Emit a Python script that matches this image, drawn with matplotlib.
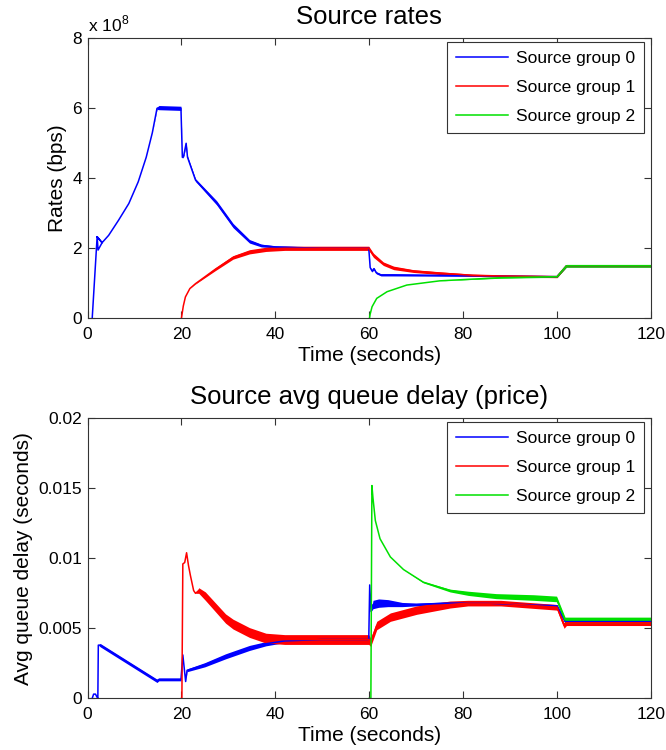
import numpy as np
import matplotlib
matplotlib.use('Agg')
import matplotlib.pyplot as plt

plt.rcParams['font.family'] = ['Liberation Sans', 'DejaVu Sans']
plt.rcParams['mathtext.fontset'] = 'custom'
plt.rcParams['mathtext.rm'] = 'Liberation Sans'

labels = ['Source group 0', 'Source group 1', 'Source group 2']
colors = ['#0000ff', '#ff0000', '#00e000']

# rates, in units of 1e8 bps  (t, centre, half width of the noise band)
rate0_t = [1.0, 2.05, 2.25, 3.1, 2.05, 3.1, 4.5, 6.6, 8.8, 10.8, 12.5, 13.8, 14.8, 15.2, 19.9,
           20.2, 20.5, 21.0, 21.3, 23.0, 27.5, 31.0, 34.5, 37.0, 40.0, 45.0, 50.0, 55.0, 59.9,
           60.2, 60.6, 61.0, 61.5, 62.5, 65.0, 80.0, 100.0, 102.0, 120.0]
rate0_v = [0, 2.33, 1.95, 2.16, 2.33, 2.16, 2.37, 2.8, 3.28, 3.9, 4.6, 5.3, 6.0, 6.02, 6.0,
           4.6, 4.65, 5.0, 4.6, 3.95, 3.3, 2.65, 2.2, 2.08, 2.04, 2.02, 2.0, 2.0, 2.0,
           1.45, 1.35, 1.42, 1.3, 1.24, 1.24, 1.22, 1.19, 1.5, 1.5]
rate0_h = [0, 0, 0, 0, 0, 0, 0, 0, 0, 0, 0, 0, 0.03, 0.06, 0.06,
           0.03, 0.03, 0.04, 0.04, 0.04, 0.06, 0.06, 0.05, 0.04, 0.03, 0.03, 0.03, 0.03, 0.03,
           0.02, 0.03, 0.03, 0.03, 0.03, 0.03, 0.02, 0.02, 0.03, 0.03]

rate1_t = [20.0, 20.4, 20.85, 21.8, 23.0, 27.2, 31.0, 34.5, 38.0, 42.0, 50.0, 59.9, 60.9, 63.0,
           65.2, 69.4, 75.0, 82.0, 88.0, 100.0, 102.0, 120.0]
rate1_v = [0, 0.35, 0.61, 0.85, 0.99, 1.40, 1.74, 1.90, 1.97, 2.0, 2.0, 2.0, 1.8, 1.56,
           1.44, 1.35, 1.29, 1.23, 1.21, 1.19, 1.5, 1.5]
rate1_h = [0, 0, 0, 0, 0.01, 0.04, 0.05, 0.06, 0.06, 0.06, 0.06, 0.06, 0.06, 0.05,
           0.05, 0.04, 0.04, 0.03, 0.03, 0.03, 0.03, 0.03]

rate2_t = [60.05, 60.2, 60.6, 61.6, 63.8, 68.0, 75.0, 82.0, 88.0, 100.0, 102.0, 120.0]
rate2_v = [0, 0.12, 0.33, 0.57, 0.76, 0.95, 1.07, 1.12, 1.16, 1.19, 1.5, 1.5]
rate2_h = [0, 0, 0, 0, 0, 0, 0, 0.01, 0.015, 0.02, 0.04, 0.04]

# average queue delay, seconds
delay0_t = [1.0, 1.3, 1.7, 2.0, 2.2, 2.3, 2.7, 14.8, 15.2, 19.9, 20.3, 20.9, 21.2, 25.0, 29.4,
            34.5, 38.0, 42.0, 50.0, 59.9, 60.1, 60.4, 60.8, 62.0, 64.0, 67.0, 70.0, 77.0, 85.0,
            100.0, 101.7, 120.0]
delay0_v = [0, 0.0003, 0.0003, 0.0001, 0.0, 0.0038, 0.0038, 0.00125, 0.00135, 0.00135, 0.0031,
            0.0012, 0.0020, 0.0024, 0.0030, 0.0036, 0.0039, 0.0041, 0.0042, 0.0042, 0.0081,
            0.0062, 0.0067, 0.0068, 0.0068, 0.0067, 0.0067, 0.0068, 0.0068, 0.0066, 0.0055, 0.0055]
delay0_h = [0, 0, 0, 0, 0, 0, 0.00012, 0.00012, 0.0001, 0.0001, 0, 0, 0.0001, 0.00015, 0.00018,
            0.00018, 0.00015, 0.00012, 0.0001, 0.0001, 0, 0, 0.0003, 0.0003, 0.00025, 0.00015,
            0.0001, 0.0001, 0.0001, 0.0001, 0.0001, 0.0001]

delay1_t = [20.0, 20.1, 20.3, 20.7, 21.1, 21.5, 21.9, 22.6, 23.0, 23.7, 25.1, 29.4, 31.0, 34.5,
            38.0, 42.0, 50.0, 59.9, 60.3, 61.6, 64.5, 70.1, 77.2, 81.0, 88.0, 100.0, 101.5,
            102.0, 120.0]
delay1_v = [0, 0, 0.0096, 0.0097, 0.0104, 0.0095, 0.0088, 0.0077, 0.0075, 0.0077, 0.0073, 0.0057,
            0.0053, 0.0047, 0.0043, 0.0042, 0.0042, 0.0042, 0.0040, 0.0052, 0.0058, 0.0063,
            0.0067, 0.0068, 0.0068, 0.0065, 0.0052, 0.0054, 0.0054]
delay1_h = [0, 0, 0, 0, 0, 0, 0, 0, 0, 0.0002, 0.0003, 0.00033, 0.00035, 0.00035,
            0.00035, 0.00035, 0.00035, 0.00035, 0.0003, 0.0003, 0.0003, 0.0003,
            0.00025, 0.0002, 0.0002, 0.0002, 0.0002, 0.0002, 0.0002]

delay2_t = [60.0, 60.35, 60.57, 60.8, 61.3, 62.3, 64.5, 67.3, 71.5, 77.2, 81.1, 87.0, 95.0,
            99.9, 101.7, 120.0]
delay2_v = [0, 0, 0.0152, 0.0143, 0.0127, 0.0114, 0.0101, 0.0092, 0.0083, 0.0077, 0.0075,
            0.0073, 0.0072, 0.0071, 0.0056, 0.0056]
delay2_h = [0, 0, 0, 0, 0, 0, 0, 0, 0.00005, 0.0001, 0.00015, 0.00018, 0.0002, 0.0002,
            0.0002, 0.0002]

x_ticks = [0, 20, 40, 60, 80, 100, 120]
rate_ticks = [0, 2, 4, 6, 8]
delay_ticks = [0, 0.005, 0.01, 0.015, 0.02]
delay_ticklabels = ['0', '0.005', '0.01', '0.015', '0.02']


def draw(ax, t, v, h, color, label):
    t = np.asarray(t)
    v = np.asarray(v)
    h = np.asarray(h)
    ax.fill_between(t, v - h, v + h, color=color, lw=0)
    line, = ax.plot(t, v, color=color, lw=1.1, label=label)
    return line


def style(ax):
    ax.set_xlim(0, 120)
    ax.set_xticks(x_ticks)
    ax.tick_params(direction='in', top=True, right=True, length=5, width=0.8,
                   labelsize=12.5, color='#333333')
    ax.tick_params(axis='x', pad=6)
    ax.tick_params(axis='y', pad=4)
    for s in ax.spines.values():
        s.set_color('#333333')
        s.set_linewidth(0.8)
    ax.set_xlabel('Time (seconds)', fontsize=15, labelpad=3)


fig = plt.figure(figsize=(6.66, 7.5), dpi=100)
ax1 = fig.add_axes([0.1314, 0.5756, 0.846, 0.3733])
ax2 = fig.add_axes([0.1314, 0.0689, 0.846, 0.3733])

h1 = [draw(ax1, rate0_t, rate0_v, rate0_h, colors[0], labels[0]),
      draw(ax1, rate1_t, rate1_v, rate1_h, colors[1], labels[1]),
      draw(ax1, rate2_t, rate2_v, rate2_h, colors[2], labels[2])]
style(ax1)
ax1.set_ylim(0, 8)
ax1.set_yticks(rate_ticks)
ax1.set_ylabel('Rates (bps)', fontsize=15)
ax1.set_title('Source rates', fontsize=18.5, pad=10)
ax1.text(0.0, 1.015, r'x 10$^{8}$', transform=ax1.transAxes, fontsize=12.5, va='bottom', ha='left')

h2 = [draw(ax2, delay0_t, delay0_v, delay0_h, colors[0], labels[0]),
      draw(ax2, delay1_t, delay1_v, delay1_h, colors[1], labels[1]),
      draw(ax2, delay2_t, delay2_v, delay2_h, colors[2], labels[2])]
style(ax2)
ax2.set_ylim(0, 0.02)
ax2.set_yticks(delay_ticks)
ax2.set_yticklabels(delay_ticklabels)
ax2.set_ylabel('Avg queue delay (seconds)', fontsize=15)
ax2.set_title('Source avg queue delay (price)', fontsize=18.5, pad=10)

for ax, hs in [(ax1, h1), (ax2, h2)]:
    leg = ax.legend(hs, labels, loc='upper right', bbox_to_anchor=(0.9876, 0.9857),
                    borderaxespad=0, fontsize=12.5, handlelength=3.0, handletextpad=0.45,
                    labelspacing=0.8, borderpad=0.5,
                    fancybox=False, framealpha=1, edgecolor='#333333')
    leg.get_frame().set_linewidth(0.8)

fig.savefig('out.png', dpi=100)
